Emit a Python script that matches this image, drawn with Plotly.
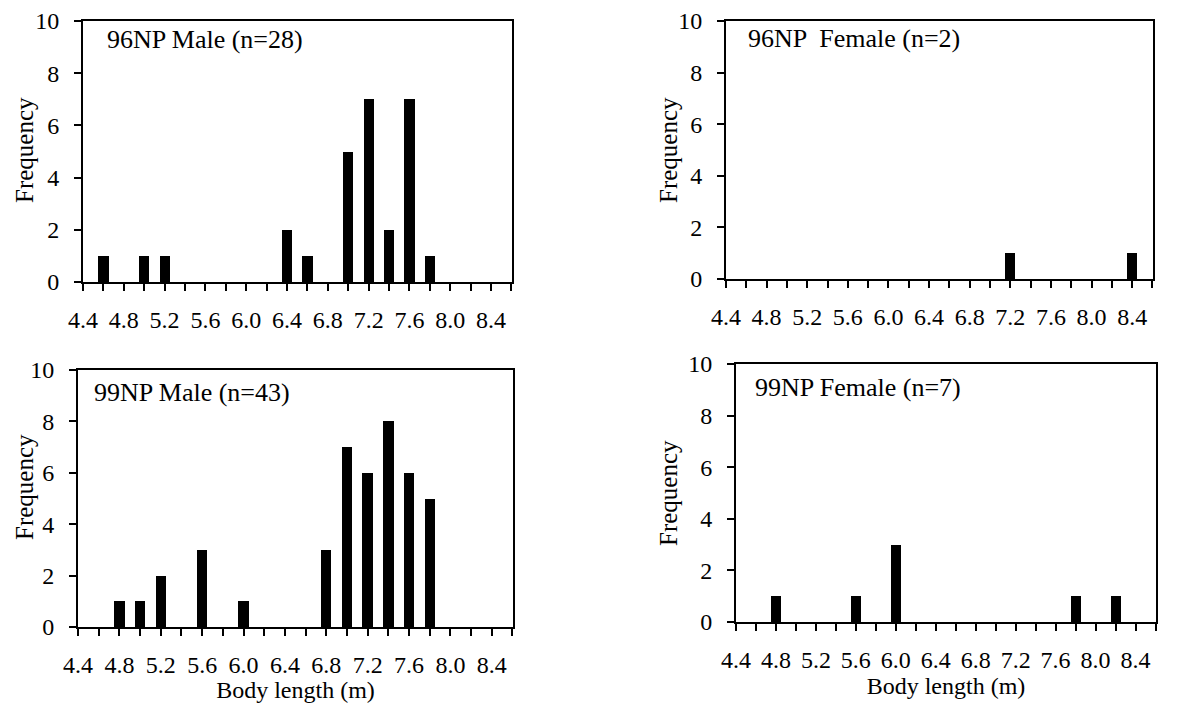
import plotly.graph_objects as go

# ---- data (body length bins in m, frequency) ----
m96_len = [4.6, 5.0, 5.2, 6.4, 6.6, 7.0, 7.2, 7.4, 7.6, 7.8]
m96_freq = [1, 1, 1, 2, 1, 5, 7, 2, 7, 1]

f96_len = [7.2, 8.4]
f96_freq = [1, 1]

m99_len = [4.8, 5.0, 5.2, 5.6, 6.0, 6.8, 7.0, 7.2, 7.4, 7.6, 7.8]
m99_freq = [1, 1, 2, 3, 1, 3, 7, 6, 8, 6, 5]

f99_len = [4.8, 5.6, 6.0, 7.8, 8.2]
f99_freq = [1, 1, 3, 1, 1]

panel_titles = ["96NP Male (n=28)", "96NP  Female (n=2)",
                "99NP Male (n=43)", "99NP Female (n=7)"]
x_tick_vals = [4.4, 4.8, 5.2, 5.6, 6.0, 6.4, 6.8, 7.2, 7.6, 8.0, 8.4]
x_tick_text = ["4.4", "4.8", "5.2", "5.6", "6.0", "6.4", "6.8", "7.2", "7.6", "8.0", "8.4"]
y_tick_vals = [0, 2, 4, 6, 8, 10]
x_title = "Body length (m)"
y_title = "Frequency"

# page is 1204x711; the html body has an 8px margin, so the figure is offset by 8px
OFF = 8
W, H = 1204 - 2 * OFF, 711 - 2 * OFF
FONT = "Liberation Serif"


def fx(px):
    return (px - OFF) / W


def fy(py):
    return 1 - (py - OFF) / H


# panel boxes in page pixels: (left, right, top, bottom)
boxes = [
    (83, 512, 21, 282),
    (726, 1153, 21, 279),
    (78, 513, 370, 627),
    (736, 1156, 364, 622),
]
series = [(m96_len, m96_freq), (f96_len, f96_freq),
          (m99_len, m99_freq), (f99_len, f99_freq)]

fig = go.Figure()
for i, ((xs, ys), (l, r, t, b)) in enumerate(zip(series, boxes)):
    n = i + 1
    xa = "x" if n == 1 else f"x{n}"
    ya = "y" if n == 1 else f"y{n}"
    fig.add_trace(go.Bar(x=xs, y=ys, width=0.1, marker=dict(color="black", line=dict(width=0)),
                         xaxis=xa, yaxis=ya, showlegend=False))
    xkey = "xaxis" if n == 1 else f"xaxis{n}"
    ykey = "yaxis" if n == 1 else f"yaxis{n}"
    bottom = n >= 3
    fig.update_layout(**{
        xkey: dict(
            domain=[fx(l), fx(r)], anchor=ya, range=[4.4, 8.605], automargin=False,
            tickmode="array", tickvals=x_tick_vals, ticktext=x_tick_text, tickangle=0,
            ticks="outside", ticklen=7, tickwidth=1.5, tickcolor="black",
            minor=dict(tickmode="linear", tick0=4.4, dtick=0.2, ticks="outside",
                       ticklen=7, tickwidth=1.5, tickcolor="black", showgrid=False),
            showline=True, linecolor="black", linewidth=1.8, mirror=True,
            showgrid=False, zeroline=False, ticklabelstandoff=8, ticklabeloverflow="allow",
            tickfont=dict(family=FONT, size=24, color="black"),
            title=dict(text=x_title if bottom else "", standoff=4,
                       font=dict(family=FONT, size=24, color="black")),
        ),
        ykey: dict(
            domain=[fy(b), fy(t)], anchor=xa, range=[0, 10], automargin=False,
            tickmode="array", tickvals=y_tick_vals,
            ticks="outside", ticklen=7, tickwidth=1.5, tickcolor="black",
            showline=True, linecolor="black", linewidth=1.8, mirror=True,
            showgrid=False, zeroline=False, ticklabelstandoff=10, ticklabeloverflow="allow",
            tickfont=dict(family=FONT, size=24, color="black"),
        ),
    })

# panel labels inside plot areas
title_pos = [(105, 40), (746, 39), (92, 392), (753, 387)]
for txt, (px, py) in zip(panel_titles, title_pos):
    fig.add_annotation(text=txt, xref="paper", yref="paper", x=fx(px), y=fy(py),
                       xanchor="left", yanchor="middle", showarrow=False,
                       font=dict(family=FONT, size=26, color="black"))

# y axis titles
ytitle_pos = [(24, 150), (668, 150), (24, 487), (668, 493)]
for px, py in ytitle_pos:
    fig.add_annotation(text=y_title, xref="paper", yref="paper", x=fx(px), y=fy(py),
                       xanchor="center", yanchor="middle", showarrow=False, textangle=-90,
                       font=dict(family=FONT, size=25, color="black"))

fig.update_layout(width=W, height=H, margin=dict(l=0, r=0, t=0, b=0),
                  paper_bgcolor="white", plot_bgcolor="white", bargap=0)

fig.write_html("out.html")
